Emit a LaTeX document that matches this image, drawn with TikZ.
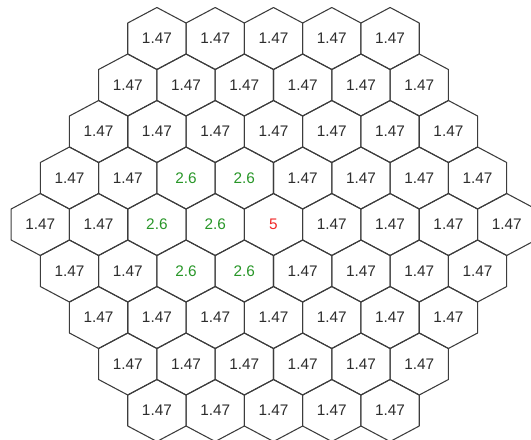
\documentclass[tikz,border=0pt]{standalone}
\usepackage{fontspec}
\setmainfont{Liberation Sans}
\definecolor{hexline}{RGB}{60,60,60}
\definecolor{hextext}{RGB}{45,45,45}
\definecolor{hexgreen}{RGB}{40,150,40}
\definecolor{hexred}{RGB}{240,40,40}
\tikzset{
  hexcell/.style={draw=hexline, line width=0.8pt, line join=round},
  hexlabel/.style={font=\fontsize{11.5}{13}\selectfont, inner sep=0pt},
}

\begin{document}
\begin{tikzpicture}[x=0.75pt, y=-0.75pt]
  \useasboundingbox (0,0) rectangle (531,439);
  \clip (0,0) rectangle (531,439);
  % rows of cells: 5, 6, ..., 9, ..., 5
  \foreach \r in {0,...,8} {
    \pgfmathtruncatemacro{\off}{abs(\r-4)}
    \pgfmathtruncatemacro{\last}{8-\off}
    \foreach \k in {0,...,\last} {
      \pgfmathsetmacro{\cx}{40.3+29.15*\off+58.3*\k}
      \pgfmathsetmacro{\cy}{38.5+46.5*\r}
      \pgfmathtruncatemacro{\hot}{(\r>=3)&&(\r<=5)&&(\k>=2)&&(\k<=3)}
      \pgfmathtruncatemacro{\peak}{(\r==4)&&(\k==4)}
      \def\lbl{1.47}\def\col{hextext}
      \ifnum\hot=1 \def\lbl{2.6}\def\col{hexgreen}\fi
      \ifnum\peak=1 \def\lbl{5}\def\col{hexred}\fi
      \draw[hexcell] (\cx,\cy) ++(0,-31) -- ++(29.15,15.5) -- ++(0,31)
        -- ++(-29.15,15.5) -- ++(-29.15,-15.5) -- ++(0,-31) -- cycle;
      \node[hexlabel, text=\col] (c-\r-\k) at (\cx,\cy) {\lbl};
    }
  }
\end{tikzpicture}
\end{document}
